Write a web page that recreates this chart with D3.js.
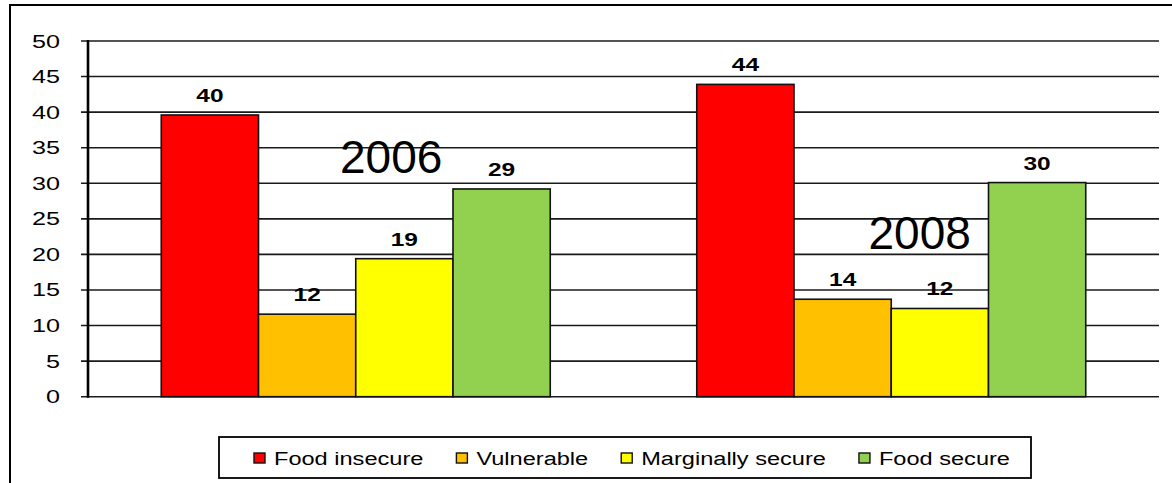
<!DOCTYPE html>
<html>
<head>
<meta charset="utf-8">
<script src="https://cdn.jsdelivr.net/npm/d3@7"></script>
<style>
  body { margin: 0; background: #fff; }
  svg { display: block; font-family: "Liberation Sans", Arial, sans-serif; }
</style>
</head>
<body>
<svg class="chart"></svg>
<script>
const years = ["2006", "2008"];
const groups = ["Food insecure", "Vulnerable", "Marginally secure", "Food secure"];
const values2006 = [39.6, 11.6, 19.4, 29.2];
const values2008 = [43.9, 13.7, 12.4, 30.1];
const labels2006 = ["40", "12", "19", "29"];
const labels2008 = ["44", "14", "12", "30"];
const yTicks = [0, 5, 10, 15, 20, 25, 30, 35, 40, 45, 50];
const colors = ["#ff0000", "#ffc000", "#ffff00", "#92d050"];

const W = 1172, H = 483;
const plot = {left: 88, right: 1159, top: 41, bottom: 396.7};

const svg = d3.select(".chart")
    .attr("width", W)
    .attr("height", H);

// outer frame (right/bottom edges fall outside the picture)
svg.append("rect")
    .attr("x", 10).attr("y", 5)
    .attr("width", W + 20).attr("height", H + 20)
    .attr("fill", "#fff")
    .attr("stroke", "#000")
    .attr("stroke-width", 2);

const x0 = d3.scaleBand()
    .domain(years)
    .range([plot.left, plot.right])
    .paddingInner(0.2736)
    .paddingOuter(0.1368);

const x1 = d3.scaleBand()
    .domain(groups)
    .range([0, x0.bandwidth()]);

const y = d3.scaleLinear()
    .domain([0, 50])
    .range([plot.bottom, plot.top]);

// gridlines
svg.append("g")
  .selectAll("line")
  .data(yTicks)
  .enter().append("line")
    .attr("x1", plot.left - 7)
    .attr("x2", plot.right)
    .attr("y1", d => y(d))
    .attr("y2", d => y(d))
    .attr("stroke", "#1a1a1a")
    .attr("stroke-width", 1.6);

// tick labels
svg.append("g")
  .selectAll("text")
  .data(yTicks)
  .enter().append("text")
    .attr("transform", d => `translate(60,${ y(d) + 6.5 }) scale(1.36,1)`)
    .attr("text-anchor", "end")
    .attr("font-size", 18.5)
    .attr("fill", "#000")
    .text(d => d);

// y axis line
svg.append("line")
    .attr("x1", plot.left).attr("x2", plot.left)
    .attr("y1", y(50) - 1).attr("y2", y(0) + 1)
    .attr("stroke", "#000")
    .attr("stroke-width", 2.6);

const rows = [
  {year: "2006", values: values2006, labels: labels2006},
  {year: "2008", values: values2008, labels: labels2008}
];

const group = svg.selectAll(".year")
    .data(rows)
  .enter().append("g")
    .attr("class", "year")
    .attr("transform", d => `translate(${ x0(d.year) },0)`);

group.selectAll("rect")
    .data(d => d.values.map((v, i) => ({name: groups[i], value: v, label: d.labels[i], i})))
  .enter().append("rect")
    .attr("x", d => x1(d.name))
    .attr("y", d => y(d.value))
    .attr("width", x1.bandwidth())
    .attr("height", d => y(0) - y(d.value))
    .attr("fill", d => colors[d.i])
    .attr("stroke", "#111")
    .attr("stroke-width", 1.6);

// big year annotations, drawn before value labels
const yearPos = {"2006": {fx: 0.591, v: 31.4}, "2008": {fx: 0.573, v: 20.76}};
group.append("text")
    .attr("x", d => x0.bandwidth() * yearPos[d.year].fx)
    .attr("y", d => y(yearPos[d.year].v))
    .attr("text-anchor", "middle")
    .attr("font-size", 46)
    .attr("fill", "#000")
    .text(d => d.year);

group.selectAll(".val")
    .data(d => d.values.map((v, i) => ({name: groups[i], value: v, label: d.labels[i]})))
  .enter().append("text")
    .attr("class", "val")
    .attr("transform", d => `translate(${ x1(d.name) + x1.bandwidth() / 2 },${ y(d.value) - 13 }) scale(1.4,1)`)
    .attr("text-anchor", "middle")
    .attr("font-size", 17.5)
    .attr("font-weight", "bold")
    .attr("fill", "#000")
    .text(d => d.label);

// legend
const legend = svg.append("g");
legend.append("rect")
    .attr("x", 219).attr("y", 437)
    .attr("width", 812).attr("height", 41)
    .attr("fill", "#fff")
    .attr("stroke", "#000")
    .attr("stroke-width", 1.8);

let lx = 254;
groups.forEach((g, i) => {
  legend.append("rect")
      .attr("x", lx).attr("y", 453)
      .attr("width", 11).attr("height", 10)
      .attr("fill", colors[i])
      .attr("stroke", "#111")
      .attr("stroke-width", 1.4);
  const t = legend.append("text")
      .attr("transform", `translate(${ lx + 20 },464.5) scale(1.31,1)`)
      .attr("font-size", 18)
      .attr("fill", "#000")
      .text(g);
  lx += 20 + t.node().getComputedTextLength() * 1.31 + 33;
});
</script>
</body>
</html>
